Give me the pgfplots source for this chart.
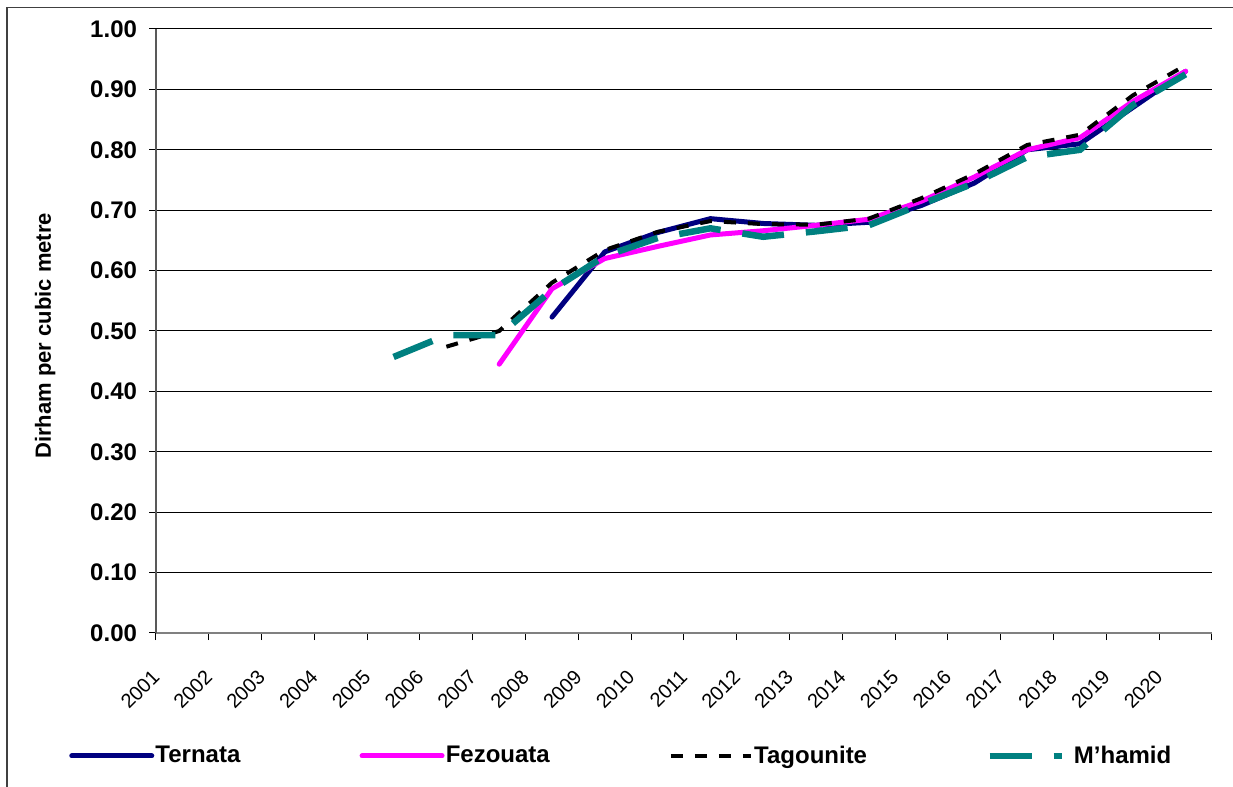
\documentclass[border=0pt]{standalone}
\usepackage{fontspec}
\setmainfont{Liberation Sans}
\usepackage{pgfplots}
\pgfplotsset{compat=1.18}
\definecolor{ternata}{HTML}{000080}
\definecolor{fez}{HTML}{FF00FF}
\definecolor{mh}{HTML}{008080}
\pgfplotsset{mhlegend/.style={legend image code/.code={\draw[#1] (0pt,0pt) -- (36pt,0pt); \path (40pt,0pt);}}}
\begin{document}
\begin{tikzpicture}
\begin{axis}[
  at={(0pt,0pt)}, anchor=south west,
  scale only axis, width=528pt, height=302pt,
  xmin=2000.5, xmax=2020.5, ymin=0, ymax=1,
  axis lines*=left,
  x axis line style={draw=gray, line width=1pt},
  y axis line style={draw=gray!70!black, line width=0.75pt},
  xtick={2000.5,2001.5,...,2020.5},
  xticklabels={,2001,2002,2003,2004,2005,2006,2007,2008,2009,2010,2011,2012,2013,2014,2015,2016,2017,2018,2019,2020},
  ytick={0,0.1,...,1.01},
  tick align=outside,
  major tick length=3.5pt,
  tick style={draw=black, line width=0.5pt},
  ymajorgrids,
  grid style={draw=black, line width=0.5pt},
  /pgf/number format/assume math mode=true,
  yticklabel style={font=\bfseries\fontsize{12}{14}\selectfont, /pgf/number format/.cd, fixed, fixed zerofill, precision=2, /tikz/.cd, xshift=-2.5pt},
  xticklabel style={font=\fontsize{10}{11}\selectfont, xshift=-29pt, yshift=-14pt, rotate=45, anchor=north east, inner sep=0pt},
  ylabel={Dirham per cubic metre},
  ylabel style={font=\bfseries\fontsize{11}{13}\selectfont, at={(axis description cs:-0.105,0.492)}, anchor=center},
  legend columns=4,
  legend image code/.code={\draw[#1] (0pt,0pt) -- (40pt,0pt);},
  legend style={draw=none, fill=none, at={(axis description cs:-0.0825,-0.2036)}, anchor=west, inner sep=0pt,
    font=\bfseries\fontsize{12}{14}\selectfont, nodes={inner sep=0.6pt},
    /tikz/every even column/.append style={column sep=59pt}},
]
\addplot[ternata, line width=2.5pt, line cap=round, line join=round] coordinates {
(2008,0.523) (2009,0.631) (2010,0.663) (2011,0.686) (2012,0.678) (2013,0.675) (2014,0.680) (2015,0.708) (2016,0.745) (2017,0.800) (2018,0.810) (2019,0.870) (2020,0.930)};
\addlegendentry{Ternata}
\addplot[fez, line width=2.5pt, line cap=round, line join=round] coordinates {
(2007,0.445) (2008,0.570) (2009,0.620) (2010,0.640) (2011,0.659) (2012,0.666) (2013,0.675) (2014,0.685) (2015,0.715) (2016,0.755) (2017,0.800) (2018,0.820) (2019,0.880) (2020,0.930)};
\addlegendentry{Fezouata}
\addplot[black, line width=2pt, dash pattern=on 6pt off 6pt] coordinates {
(2006,0.474) (2007,0.500) (2008,0.580) (2009,0.634) (2010,0.664) (2011,0.682) (2012,0.677) (2013,0.676) (2014,0.686) (2015,0.720) (2016,0.760) (2017,0.808) (2018,0.825) (2019,0.890) (2020,0.940)};
\addlegendentry{Tagounite}
\addplot[mh, line width=3.25pt, dash pattern=on 21pt off 11pt, mhlegend] coordinates {
(2005,0.457) (2006,0.493) (2007,0.493) (2008,0.568) (2009,0.624) (2010,0.654) (2011,0.670) (2012,0.656) (2013,0.665) (2014,0.675) (2015,0.710) (2016,0.745) (2017,0.788) (2018,0.800) (2019,0.874) (2020,0.925)};
\addlegendentry{M’hamid}
\end{axis}
\draw[draw=black!75, line width=0.75pt] (-74.5pt,-120pt) rectangle (580pt,312.75pt);
\pgfresetboundingbox
\path[use as bounding box] (-78pt,-77pt) rectangle (538.5pt,316.5pt);
\end{tikzpicture}
\end{document}
